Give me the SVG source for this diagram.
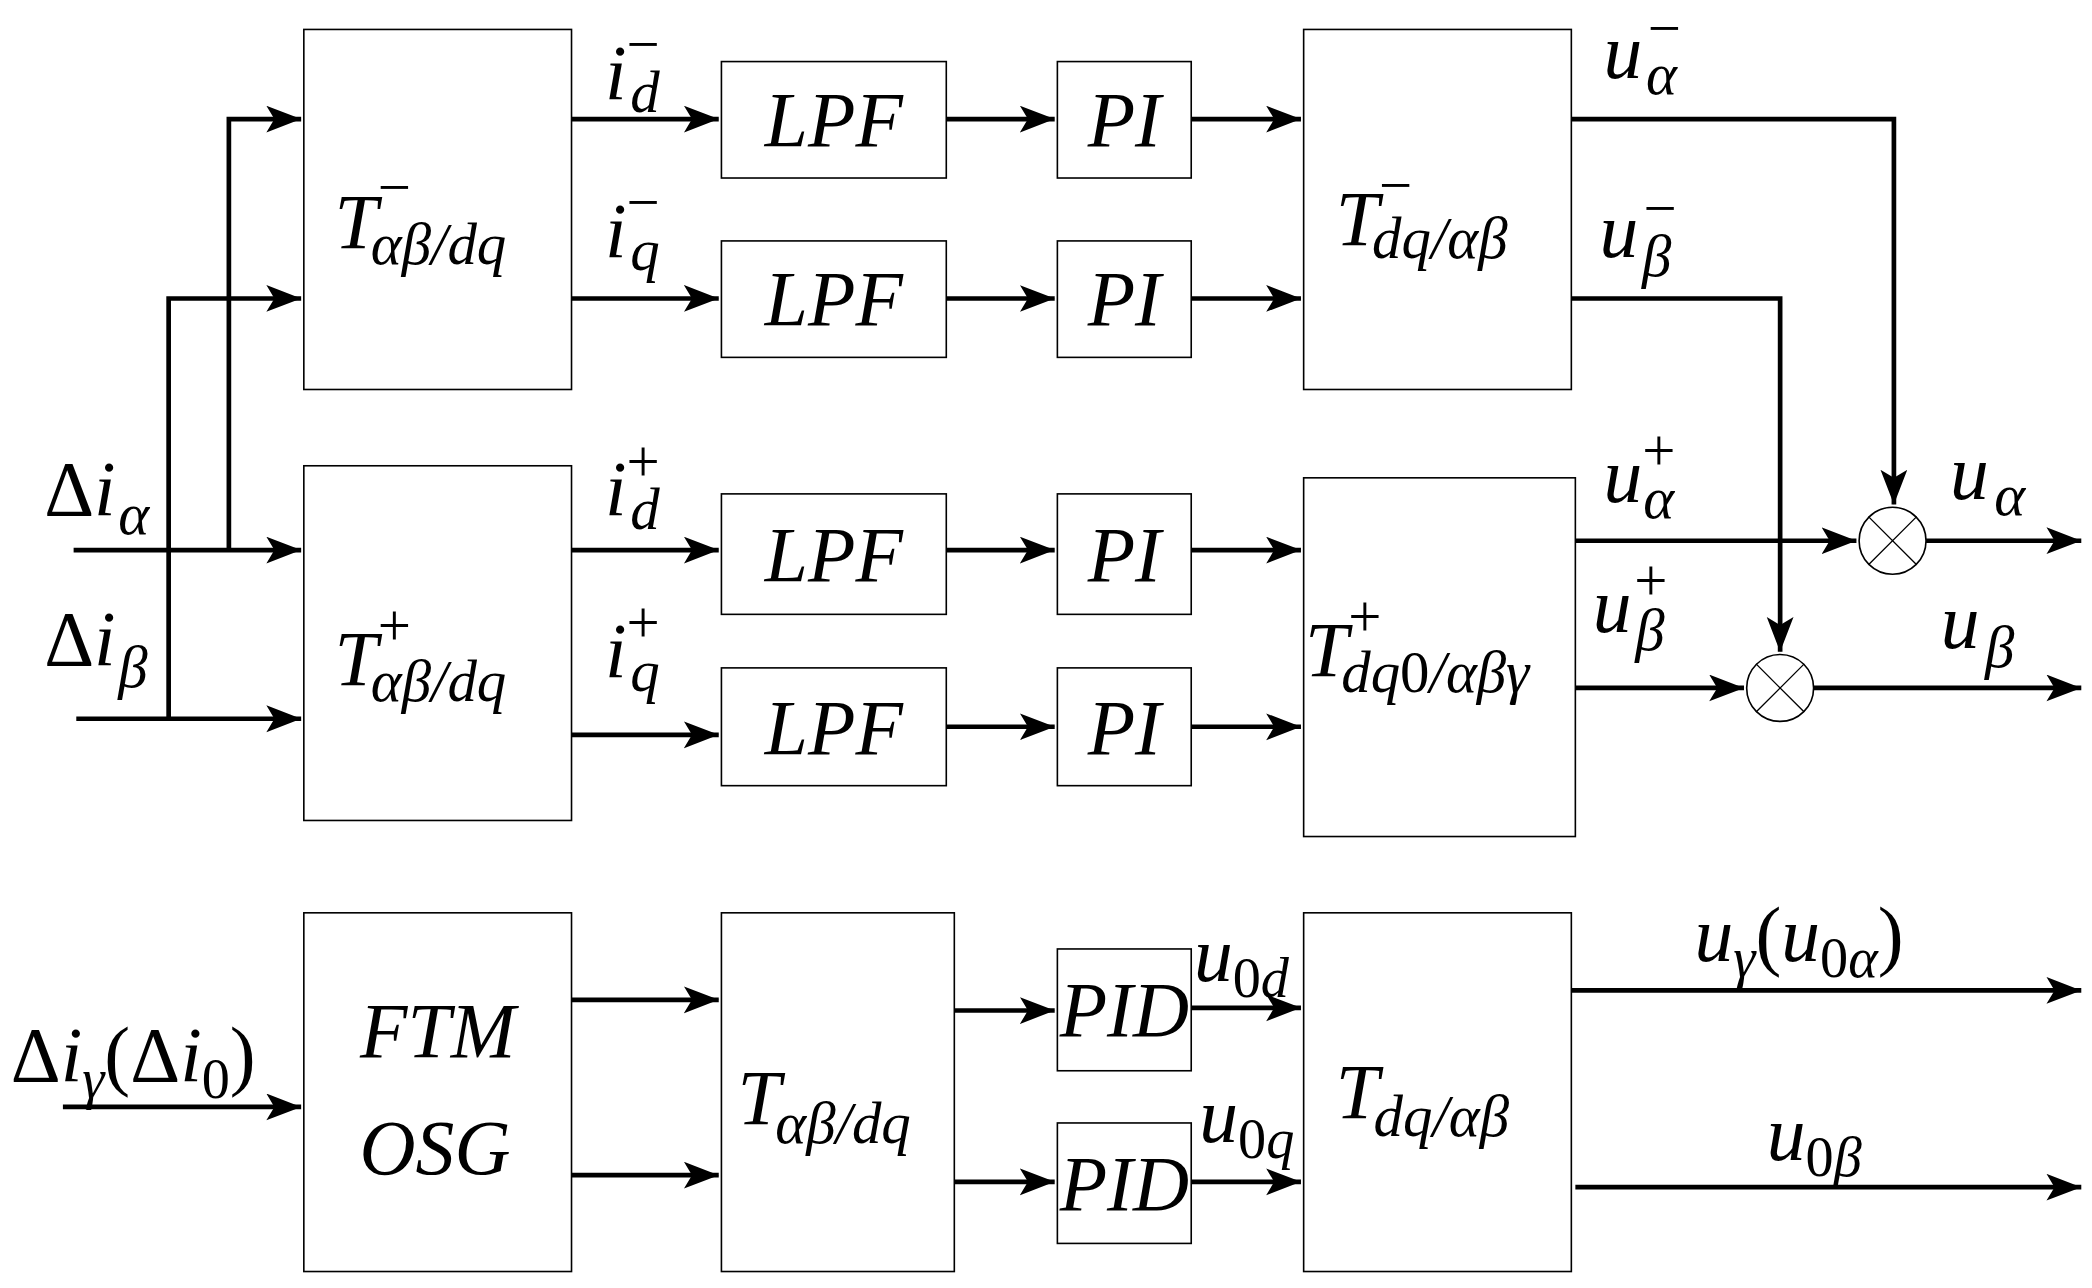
<svg xmlns="http://www.w3.org/2000/svg" width="2092" height="1288" viewBox="0 0 2092 1288">
<style>
.b{fill:#fff;stroke:#000;stroke-width:1.2}
.w{fill:none;stroke:#000;stroke-width:3.5}
text{font-family:"Liberation Serif","Times New Roman","DejaVu Serif",serif}
.t{font-style:italic;font-size:58px}
.s{font-style:italic;font-size:44px}
.n{font-style:normal}
.c{text-anchor:middle}
</style>
<defs>
<marker id="a" markerUnits="userSpaceOnUse" markerWidth="30" markerHeight="22" refX="26" refY="10" orient="auto"><path d="M0,0 L26,10 L0,20 L6,10 z" fill="#000"/></marker>
</defs>
<rect width="2092" height="1288" fill="#fff"/>
<g transform="scale(1.33845)">
<g id="nodes">
<g id="tneg"><rect class="b" x="227" y="22" width="200" height="269"/><text class="t" x="250" y="185">T<tspan class="n" font-size="44" dx="0" dy="-30">−</tspan><tspan font-size="44" dx="-30" dy="42">αβ/dq</tspan></text></g>
<g id="tpos"><rect class="b" x="227" y="348" width="200" height="265"/><text class="t" x="250" y="512">T<tspan class="n" font-size="44" dx="0" dy="-30">+</tspan><tspan font-size="44" dx="-30" dy="42">αβ/dq</tspan></text></g>
<g id="lpf1"><rect class="b" x="539" y="46" width="168" height="87"/><text class="t c" x="623" y="109">LPF</text></g>
<g id="lpf2"><rect class="b" x="539" y="180" width="168" height="87"/><text class="t c" x="623" y="243">LPF</text></g>
<g id="lpf3"><rect class="b" x="539" y="369" width="168" height="90"/><text class="t c" x="623" y="434">LPF</text></g>
<g id="lpf4"><rect class="b" x="539" y="499" width="168" height="88"/><text class="t c" x="623" y="563">LPF</text></g>
<g id="pi1"><rect class="b" x="790" y="46" width="100" height="87"/><text class="t c" x="840" y="109">PI</text></g>
<g id="pi2"><rect class="b" x="790" y="180" width="100" height="87"/><text class="t c" x="840" y="243">PI</text></g>
<g id="pi3"><rect class="b" x="790" y="369" width="100" height="90"/><text class="t c" x="840" y="434">PI</text></g>
<g id="pi4"><rect class="b" x="790" y="499" width="100" height="88"/><text class="t c" x="840" y="563">PI</text></g>
<g id="tdqneg"><rect class="b" x="974" y="22" width="200" height="269"/><text class="t" x="998" y="183">T<tspan class="n" font-size="44" dx="0" dy="-30">−</tspan><tspan font-size="44" dx="-30" dy="40">dq/αβ</tspan></text></g>
<g id="tdqpos"><rect class="b" x="974" y="357" width="203" height="268"/><text class="t" x="975" y="505">T<tspan class="n" font-size="44" dx="0" dy="-30">+</tspan><tspan font-size="44" dx="-30" dy="42">dq<tspan class="n">0</tspan>/αβγ</tspan></text></g>
<g id="m1"><circle class="b" cx="1414" cy="404" r="25"/><path d="M1396,386 L1432,422 M1432,386 L1396,422" stroke="#000" stroke-width="1"/></g>
<g id="m2"><circle class="b" cx="1330" cy="514" r="25"/><path d="M1312,496 L1348,532 M1348,496 L1312,532" stroke="#000" stroke-width="1"/></g>
<g id="ftm"><rect class="b" x="227" y="682" width="200" height="268"/><text class="t c" x="327" y="790">FTM</text><text class="t c" x="325" y="877">OSG</text></g>
<g id="tab"><rect class="b" x="539" y="682" width="174" height="268"/><text class="t" x="551" y="840">T<tspan font-size="44" dx="-4" dy="14">αβ/dq</tspan></text></g>
<g id="pid1"><rect class="b" x="790" y="709" width="100" height="91"/><text class="t c" x="840" y="774" font-size="52">PID</text></g>
<g id="pid2"><rect class="b" x="790" y="839" width="100" height="90"/><text class="t c" x="840" y="904" font-size="52">PID</text></g>
<g id="tdq"><rect class="b" x="974" y="682" width="200" height="268"/><text class="t" x="998" y="835">T<tspan font-size="44" dx="-4" dy="14">dq/αβ</tspan></text></g>
</g>
<g id="connectors" class="w">
<path d="M55,411 H225" marker-end="url(#a)"/>
<path d="M171,411 V89 H225" marker-end="url(#a)"/>
<path d="M57,537 H225" marker-end="url(#a)"/>
<path d="M126,537 V223 H225" marker-end="url(#a)"/>
<path d="M427,89 H537" marker-end="url(#a)"/>
<path d="M427,223 H537" marker-end="url(#a)"/>
<path d="M427,411 H537" marker-end="url(#a)"/>
<path d="M427,549 H537" marker-end="url(#a)"/>
<path d="M707,89 H788" marker-end="url(#a)"/>
<path d="M707,223 H788" marker-end="url(#a)"/>
<path d="M707,411 H788" marker-end="url(#a)"/>
<path d="M707,543 H788" marker-end="url(#a)"/>
<path d="M890,89 H972" marker-end="url(#a)"/>
<path d="M890,223 H972" marker-end="url(#a)"/>
<path d="M890,411 H972" marker-end="url(#a)"/>
<path d="M890,543 H972" marker-end="url(#a)"/>
<path d="M1174,89 H1415 V377" marker-end="url(#a)"/>
<path d="M1174,223 H1330 V487" marker-end="url(#a)"/>
<path d="M1177,404 H1387" marker-end="url(#a)"/>
<path d="M1439,404 H1555" marker-end="url(#a)"/>
<path d="M1177,514 H1303" marker-end="url(#a)"/>
<path d="M1355,514 H1555" marker-end="url(#a)"/>
<path d="M47,827 H225" marker-end="url(#a)"/>
<path d="M427,747 H537" marker-end="url(#a)"/>
<path d="M427,878 H537" marker-end="url(#a)"/>
<path d="M713,755 H788" marker-end="url(#a)"/>
<path d="M713,883 H788" marker-end="url(#a)"/>
<path d="M890,753 H972" marker-end="url(#a)"/>
<path d="M890,883 H972" marker-end="url(#a)"/>
<path d="M1174,740 H1555" marker-end="url(#a)"/>
<path d="M1177,887 H1555" marker-end="url(#a)"/>
</g>
<g id="labels">
<text class="t" x="33" y="385"><tspan class="n">Δ</tspan>i<tspan font-size="44" dx="2" dy="14">α</tspan></text>
<text class="t" x="33" y="497"><tspan class="n">Δ</tspan>i<tspan font-size="44" dx="2" dy="16">β</tspan></text>
<text class="t" x="452" y="74">i<tspan class="n" font-size="44" dy="-26">−</tspan><tspan font-size="44" dx="-22" dy="36">d</tspan></text>
<text class="t" x="452" y="192">i<tspan class="n" font-size="44" dy="-26">−</tspan><tspan font-size="44" dx="-22" dy="36">q</tspan></text>
<text class="t" x="452" y="385">i<tspan class="n" font-size="44" dy="-26">+</tspan><tspan font-size="44" dx="-22" dy="36">d</tspan></text>
<text class="t" x="452" y="506">i<tspan class="n" font-size="44" dy="-26">+</tspan><tspan font-size="44" dx="-22" dy="36">q</tspan></text>
<text class="t" x="1198" y="58">u<tspan class="n" font-size="44" dx="4" dy="-22">−</tspan><tspan font-size="44" dx="-26" dy="34">α</tspan></text>
<text class="t" x="1195" y="192">u<tspan class="n" font-size="44" dx="4" dy="-22">−</tspan><tspan font-size="44" dx="-26" dy="36">β</tspan></text>
<text class="t" x="1198" y="375">u<tspan class="n" font-size="44" dx="0" dy="-24">+</tspan><tspan font-size="44" dx="-24" dy="36">α</tspan></text>
<text class="t" x="1190" y="472">u<tspan class="n" font-size="44" dx="2" dy="-24">+</tspan><tspan font-size="44" dx="-24" dy="38">β</tspan></text>
<text class="t" x="1457" y="373">u<tspan font-size="44" dx="4" dy="12">α</tspan></text>
<text class="t" x="1450" y="484">u<tspan font-size="44" dx="4" dy="14">β</tspan></text>
<text class="t" x="8" y="808" font-size="54"><tspan class="n">Δ</tspan>i<tspan font-size="42" dy="12">γ</tspan><tspan class="n" dy="-12">(Δ</tspan>i<tspan class="n" font-size="42" dy="12">0</tspan><tspan class="n" dy="-12">)</tspan></text>
<text class="t" x="892" y="733" font-size="54">u<tspan font-size="42" dy="12"><tspan class="n">0</tspan>d</tspan></text>
<text class="t" x="896" y="853" font-size="54">u<tspan font-size="42" dy="12"><tspan class="n">0</tspan>q</tspan></text>
<text class="t" x="1266" y="718" font-size="54">u<tspan font-size="42" dy="12">γ</tspan><tspan class="n" dy="-12">(</tspan>u<tspan font-size="42" dy="12"><tspan class="n">0</tspan>α</tspan><tspan class="n" dy="-12">)</tspan></text>
<text class="t" x="1320" y="867" font-size="54">u<tspan font-size="42" dy="12"><tspan class="n">0</tspan>β</tspan></text>
</g>
</g>
</svg>
